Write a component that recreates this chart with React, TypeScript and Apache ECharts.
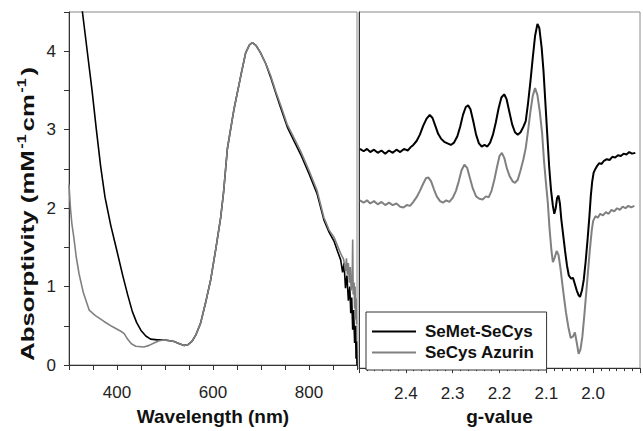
import React, { useEffect, useRef } from 'react';
import * as echarts from 'echarts';

const seriesNames = ['SeMet-SeCys', 'SeCys Azurin'];
const seriesColors = ['#000000', '#808080'];
const uvLabelValues = [400, 600, 800];
const absLabelValues = [0, 1, 2, 3, 4];
const gLabelValues = [2.4, 2.3, 2.2, 2.1, 2.0];

// UV-vis absorptivity: [wavelength nm, mM^-1 cm^-1]
const uvSeMetSeCys = [
  [300, 5.9], [314, 5.2], [328, 4.5], [338, 4.0], [348, 3.5], [357, 3.0], [366, 2.53], [375, 2.14],
  [387, 1.78], [400, 1.45], [412, 1.14], [422, 0.9], [432, 0.68], [441, 0.54], [450, 0.44], [460, 0.37],
  [470, 0.33], [484, 0.32], [498, 0.32], [510, 0.31], [519, 0.3], [530, 0.27], [540, 0.25], [548, 0.26],
  [556, 0.3], [564, 0.38], [574, 0.53], [584, 0.78], [595, 1.08], [605, 1.45], [616, 1.88], [622, 2.2],
  [630, 2.76], [644, 3.27], [658, 3.69], [668, 3.98], [676, 4.08], [682, 4.11], [690, 4.07], [699, 3.98],
  [710, 3.84], [720, 3.67], [730, 3.48], [741, 3.28], [755, 3.03], [770, 2.84], [783, 2.68], [800, 2.44],
  [817, 2.18], [831, 1.85], [842, 1.69], [852, 1.58], [860, 1.44], [866, 1.34], [870, 1.18], [873, 1.3],
  [876, 0.98], [879, 1.14], [882, 0.82], [885, 1.0], [887, 0.66], [889, 0.86], [891, 0.45], [893, 0.7],
  [895, 0.28], [897, 0.5], [898, 0.08], [899, 0.3], [900, 0.0],
];
const uvSeCysAzurin = [
  [300, 2.3], [303, 2.0], [306, 1.8], [310, 1.63], [315, 1.38], [321, 1.16], [330, 0.92], [342, 0.7],
  [355, 0.63], [373, 0.555], [390, 0.49], [408, 0.43], [415, 0.4], [422, 0.33], [430, 0.27], [439, 0.24],
  [456, 0.23], [467, 0.25], [477, 0.28], [488, 0.31], [498, 0.32], [510, 0.31], [519, 0.3], [530, 0.27],
  [540, 0.25], [548, 0.26], [556, 0.3], [564, 0.38], [574, 0.53], [584, 0.78], [595, 1.08], [605, 1.45],
  [616, 1.88], [622, 2.2], [630, 2.76], [644, 3.27], [658, 3.69], [668, 3.98], [676, 4.08], [682, 4.11],
  [690, 4.07], [699, 3.98], [710, 3.84], [720, 3.69], [730, 3.5], [741, 3.31], [755, 3.06], [770, 2.88],
  [783, 2.72], [800, 2.48], [817, 2.22], [831, 1.88], [842, 1.72], [852, 1.63], [866, 1.42], [872, 1.35],
  [876, 1.2], [878, 1.36], [880, 1.15], [882, 1.3], [884, 1.05], [886, 1.25], [888, 0.95], [890, 1.1],
  [891, 1.6], [892, 0.9], [894, 1.05], [895, 0.72], [896, 1.0], [897, 0.58], [898, 0.85], [899, 0.52],
];

// EPR spectra: [g-value, signal (arbitrary, offset)]
const eprSeMetSeCys = [
  [2.498, 2.77], [2.49, 2.74], [2.483, 2.77], [2.476, 2.73], [2.468, 2.76], [2.46, 2.72], [2.452, 2.75],
  [2.444, 2.71], [2.436, 2.75], [2.428, 2.72], [2.42, 2.76], [2.412, 2.73], [2.404, 2.77], [2.396, 2.75],
  [2.39, 2.79], [2.384, 2.82], [2.377, 2.87], [2.37, 2.95], [2.363, 3.06], [2.356, 3.15], [2.349, 3.2],
  [2.343, 3.16], [2.337, 3.06], [2.331, 2.96], [2.325, 2.9], [2.318, 2.86], [2.311, 2.84], [2.304, 2.82],
  [2.297, 2.85], [2.29, 2.93], [2.284, 3.05], [2.278, 3.2], [2.272, 3.3], [2.267, 3.32], [2.262, 3.27],
  [2.256, 3.12], [2.25, 2.95], [2.244, 2.84], [2.238, 2.8], [2.232, 2.82], [2.226, 2.8], [2.22, 2.85],
  [2.214, 2.95], [2.208, 3.1], [2.202, 3.28], [2.196, 3.42], [2.19, 3.46], [2.185, 3.4], [2.179, 3.24],
  [2.173, 3.08], [2.167, 2.98], [2.161, 2.95], [2.155, 2.98], [2.149, 3.05], [2.144, 3.12], [2.139, 3.35],
  [2.134, 3.62], [2.129, 3.92], [2.124, 4.2], [2.119, 4.35], [2.115, 4.3], [2.11, 4.05], [2.106, 3.75],
  [2.102, 3.35], [2.098, 2.95], [2.094, 2.55], [2.09, 2.25], [2.086, 2.05], [2.083, 1.95], [2.08, 2.02],
  [2.077, 2.15], [2.074, 2.18], [2.071, 2.08], [2.068, 1.88], [2.064, 1.68], [2.06, 1.48], [2.056, 1.3],
  [2.052, 1.17], [2.047, 1.13], [2.043, 1.14], [2.039, 1.06], [2.035, 0.98], [2.031, 0.92], [2.028, 0.9],
  [2.024, 0.98], [2.02, 1.12], [2.016, 1.35], [2.012, 1.62], [2.008, 1.92], [2.005, 2.18], [2.002, 2.36],
  [1.999, 2.47], [1.995, 2.52], [1.991, 2.56], [1.987, 2.59], [1.982, 2.58], [1.977, 2.62], [1.971, 2.64],
  [1.965, 2.63], [1.959, 2.67], [1.953, 2.66], [1.947, 2.69], [1.941, 2.68], [1.935, 2.71], [1.929, 2.7],
  [1.923, 2.73], [1.917, 2.71], [1.91, 2.72],
];
const eprSeCysAzurin = [
  [2.498, 2.12], [2.49, 2.09], [2.483, 2.12], [2.476, 2.08], [2.468, 2.11], [2.46, 2.07], [2.452, 2.1],
  [2.444, 2.06], [2.436, 2.09], [2.428, 2.06], [2.42, 2.08], [2.412, 2.04], [2.405, 2.03], [2.398, 2.06],
  [2.391, 2.05], [2.384, 2.1], [2.377, 2.16], [2.37, 2.24], [2.363, 2.33], [2.357, 2.4], [2.352, 2.41],
  [2.346, 2.36], [2.34, 2.26], [2.334, 2.17], [2.327, 2.11], [2.321, 2.09], [2.314, 2.12], [2.307, 2.1],
  [2.3, 2.15], [2.293, 2.24], [2.287, 2.36], [2.281, 2.5], [2.275, 2.57], [2.269, 2.53], [2.263, 2.4],
  [2.257, 2.27], [2.25, 2.17], [2.243, 2.14], [2.236, 2.13], [2.229, 2.17], [2.223, 2.16], [2.217, 2.24],
  [2.211, 2.38], [2.205, 2.55], [2.2, 2.68], [2.195, 2.72], [2.19, 2.66], [2.184, 2.52], [2.178, 2.42],
  [2.172, 2.36], [2.167, 2.34], [2.161, 2.38], [2.155, 2.5], [2.149, 2.64], [2.144, 2.78], [2.139, 3.0],
  [2.134, 3.24], [2.129, 3.44], [2.124, 3.54], [2.119, 3.45], [2.114, 3.24], [2.109, 2.97], [2.105, 2.62],
  [2.101, 2.35], [2.097, 2.1], [2.093, 1.75], [2.089, 1.48], [2.086, 1.34], [2.082, 1.4], [2.078, 1.48],
  [2.074, 1.43], [2.07, 1.27], [2.066, 1.07], [2.062, 0.88], [2.058, 0.7], [2.053, 0.52], [2.048, 0.38],
  [2.043, 0.4], [2.039, 0.45], [2.035, 0.32], [2.031, 0.18], [2.027, 0.24], [2.023, 0.4], [2.019, 0.66],
  [2.015, 0.94], [2.011, 1.22], [2.007, 1.5], [2.003, 1.74], [2.0, 1.86], [1.995, 1.92], [1.99, 1.9],
  [1.985, 1.95], [1.979, 1.93], [1.973, 1.97], [1.967, 1.95], [1.961, 2.0], [1.955, 1.98], [1.949, 2.02],
  [1.943, 2.0], [1.937, 2.04], [1.931, 2.02], [1.925, 2.05], [1.919, 2.03], [1.912, 2.05],
];

const FONT = 'Liberation Sans, Arial, sans-serif';
const AXIS_COLOR = '#333333';

export default function App() {
  const ref = useRef<HTMLDivElement>(null);

  useEffect(() => {
    if (!ref.current) return;
    const chart = echarts.init(ref.current, undefined, { renderer: 'svg' });

    const lineSeries = (name: string, idx: number, data: number[][], axis: number, width: number) => ({
      name,
      type: 'line',
      xAxisIndex: axis,
      yAxisIndex: axis,
      data,
      symbol: 'none',
      showSymbol: false,
      clip: true,
      color: seriesColors[idx],
      lineStyle: { width, color: seriesColors[idx] },
      emphasis: { disabled: true },
    });

    const option: any = {
      animation: false,
      backgroundColor: '#ffffff',
      grid: [
        { left: 69, top: 12, width: 288, height: 357, show: true, borderColor: '#8a8a8a', borderWidth: 1, backgroundColor: 'transparent' },
        { left: 359, top: 12, width: 292, height: 358, show: true, borderColor: '#8a8a8a', borderWidth: 1, backgroundColor: 'transparent' },
      ],
      xAxis: [
        {
          gridIndex: 0,
          type: 'value',
          min: 300,
          max: 900,
          interval: 50,
          axisLine: { show: true, onZero: false, lineStyle: { color: AXIS_COLOR, width: 1 } },
          axisTick: { show: true, length: 5, lineStyle: { color: AXIS_COLOR } },
          splitLine: { show: false },
          axisLabel: {
            margin: 19,
            fontSize: 17,
            color: '#222',
            fontFamily: FONT,
            formatter: (v: number) => (uvLabelValues.includes(Math.round(v)) ? String(Math.round(v)) : ''),
          },
          name: 'Wavelength (nm)',
          nameLocation: 'middle',
          nameGap: 42,
          nameTextStyle: { fontSize: 19, fontWeight: 'bold', color: '#111', fontFamily: FONT },
        },
        {
          gridIndex: 1,
          type: 'value',
          min: 1.9,
          max: 2.5,
          interval: 0.1,
          inverse: true,
          axisLine: { show: true, onZero: false, lineStyle: { color: AXIS_COLOR, width: 1 } },
          axisTick: { show: true, length: 5, lineStyle: { color: AXIS_COLOR } },
          minorTick: { show: true, splitNumber: 6, length: 3, lineStyle: { color: AXIS_COLOR } },
          splitLine: { show: false },
          minorSplitLine: { show: false },
          axisLabel: {
            margin: 17,
            fontSize: 17,
            color: '#222',
            fontFamily: FONT,
            formatter: (v: number) => (gLabelValues.some((g) => Math.abs(g - v) < 1e-6) ? v.toFixed(1) : ''),
          },
          name: 'g-value',
          nameLocation: 'middle',
          nameGap: 37,
          nameTextStyle: { fontSize: 19, fontWeight: 'bold', color: '#111', fontFamily: FONT },
        },
      ],
      yAxis: [
        {
          gridIndex: 0,
          type: 'value',
          min: 0,
          max: 4.5,
          interval: 0.5,
          axisLine: { show: true, onZero: false, lineStyle: { color: AXIS_COLOR, width: 1 } },
          axisTick: { show: true, length: 5, lineStyle: { color: AXIS_COLOR } },
          splitLine: { show: false },
          axisLabel: {
            margin: 13,
            fontSize: 17,
            color: '#222',
            fontFamily: FONT,
            formatter: (v: number) => (absLabelValues.includes(v) ? String(v) : ''),
          },
        },
        {
          gridIndex: 1,
          type: 'value',
          min: 0,
          max: 4.5,
          axisLine: { show: true, onZero: false, lineStyle: { color: AXIS_COLOR, width: 1 } },
          axisTick: { show: false },
          axisLabel: { show: false },
          splitLine: { show: false },
        },
      ],
      legend: {
        data: seriesNames,
        orient: 'vertical',
        left: 366,
        top: 312,
        padding: [11, 12, 9, 6],
        itemGap: 4,
        itemWidth: 44,
        itemHeight: 2,
        icon: 'rect',
        borderColor: '#333',
        borderWidth: 1,
        backgroundColor: '#ffffff',
        selectedMode: false,
        textStyle: { fontSize: 17, fontWeight: 'bold', color: '#111', fontFamily: FONT, padding: [0, 0, 0, 4] },
      },
      graphic: [
        {
          type: 'text',
          x: 27.5,
          y: 214,
          rotation: Math.PI / 2,
          scaleX: 1.36,
          style: {
            text: '{m|Absorptivity (mM}{s|-1}{m|cm}{s|-1}{m|)}',
            align: 'center',
            verticalAlign: 'middle',
            rich: {
              m: { fontSize: 19, fontWeight: 'bold', fontFamily: FONT, fill: '#111', lineHeight: 20 },
              s: { fontSize: 12, fontWeight: 'bold', fontFamily: FONT, fill: '#111', padding: [0, 2, 12, 1], verticalAlign: 'top' },
            },
          },
        },
      ],
      series: [
        lineSeries(seriesNames[0], 0, uvSeMetSeCys, 0, 1.6),
        lineSeries(seriesNames[1], 1, uvSeCysAzurin, 0, 1.6),
        lineSeries(seriesNames[0], 0, eprSeMetSeCys, 1, 2),
        lineSeries(seriesNames[1], 1, eprSeCysAzurin, 1, 2),
      ],
    };

    chart.setOption(option);
    return () => chart.dispose();
  }, []);

  return (
    <div
      ref={ref}
      style={{ position: 'fixed', left: 0, top: 0, width: 643, height: 431, background: '#fff' }}
    />
  );
}
